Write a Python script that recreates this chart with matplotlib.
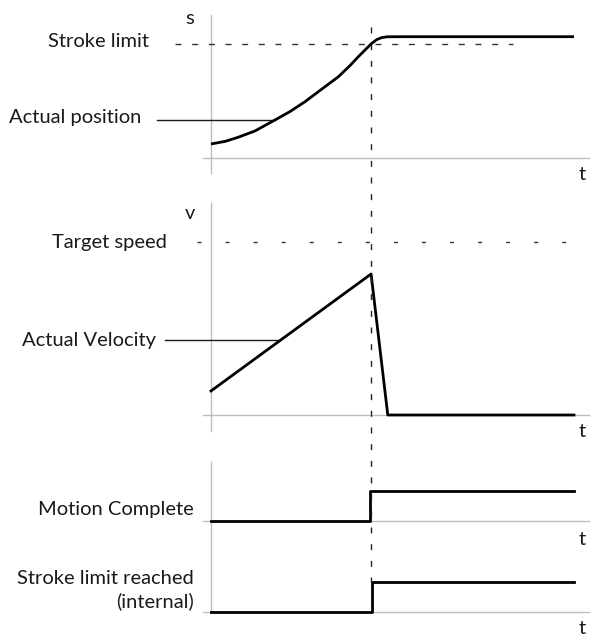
import matplotlib
matplotlib.use("Agg")
import matplotlib.pyplot as plt
from matplotlib.lines import Line2D
from matplotlib.transforms import blended_transform_factory

# --- data ---
t_pos = [0.0, 0.39, 0.75, 1.21, 1.76, 2.18, 2.59, 3.0, 3.51, 3.83, 4.06, 4.27,
         4.43, 4.57, 4.70, 4.85, 5.07, 10.0]
s_pos = [12.3, 14.6, 18.2, 23.7, 33.3, 40.8, 49.4, 59.2, 71.3, 81.1, 88.9, 95.6,
         100.6, 103.9, 105.6, 106.3, 106.4, 106.4]
stroke_limit = 100.0

t_vel = [0.0, 4.41, 4.87, 10.0]
v_vel = [13.9, 81.5, 0.0, 0.0]
target_speed = 100.0

t_mc = [0.0, 4.38, 10.0]
mc_level = [0, 1, 1]

t_slr = [0.0, 4.43, 10.0]
slr_level = [0, 1, 1]

t_event = 4.4

W, H = 592, 638
PX_PER_T = 36.3
GRAY = "#bdbdbd"
INK = "#1a1a1a"

plt.rcParams['font.family'] = ['Lato', 'DejaVu Sans']
plt.rcParams['font.size'] = 14.5

fig = plt.figure(figsize=(W / 100, H / 100), dpi=100)
xlim = (-211 / PX_PER_T, (W - 211) / PX_PER_T)


def panel(top, bottom, zero_px, px_per_unit):
    ax = fig.add_axes([0, 1 - bottom / H, 1, (bottom - top) / H])
    ax.set_xlim(*xlim)
    ax.set_ylim((zero_px - bottom) / px_per_unit, (zero_px - top) / px_per_unit)
    ax.set_axis_off()
    ax.patch.set_alpha(0)
    return ax


def axis_lines(ax, top, bottom, vtop, vbot):
    ax.axhline(0, xmin=203 / W, xmax=589 / W, color=GRAY, lw=1.0, zorder=1)
    h = bottom - top
    ax.axvline(0, ymin=(bottom - vbot) / h, ymax=(bottom - vtop) / h,
               color=GRAY, lw=1.0, zorder=1)


def label(ax, x_px, y, text, **kw):
    tr = blended_transform_factory(fig.transFigure, ax.transData)
    ax.text(x_px / W, y, text, transform=tr, ha='right', va='center',
            color=INK, **kw)


# position
ax1 = panel(0, 195, 158, 1.14)
axis_lines(ax1, 0, 195, 15, 173)
ax1.plot([-0.99, 8.32], [stroke_limit, stroke_limit], color="#333333",
         lw=1.0, dashes=(4.3, 7.7), zorder=2)
ax1.plot(t_pos, s_pos, color='black', lw=2.0, zorder=3,
         solid_capstyle='butt', solid_joinstyle='round')
ax1.plot([-1.49, 1.76], [33.3, 33.3], color=INK, lw=1.0, zorder=2)
label(ax1, 149, stroke_limit + 2.5, "Stroke limit")
label(ax1, 141, 35.5, "Actual position")
ax1.text(-0.58, 122.8, "s", ha='center', va='center', color=INK)
ax1.text(10.22, -14.9, "t", ha='center', va='center', color=INK)

# velocity
ax2 = panel(195, 445, 415, 1.73)
axis_lines(ax2, 195, 445, 203, 431)
ax2.plot([-0.39, 10.0], [target_speed, target_speed], color="#333333",
         lw=1.0, dashes=(2.9, 17.3), zorder=2)
ax2.plot(t_vel, v_vel, color='black', lw=2.0, zorder=3)
ax2.plot([-1.27, 1.87], [43.4, 43.4], color=INK, lw=1.0, zorder=2)
label(ax2, 167, target_speed, "Target speed")
label(ax2, 156, 43.0, "Actual Velocity")
ax2.text(-0.58, 116.2, "v", ha='center', va='center', color=INK)
ax2.text(10.22, -9.8, "t", ha='center', va='center', color=INK)

# motion complete
ax3 = panel(445, 545, 521, 30)
axis_lines(ax3, 445, 545, 462, 545)
ax3.plot(t_mc, mc_level, drawstyle='steps-post', color='black', lw=2.0, zorder=3)
label(ax3, 194, 0.37, "Motion Complete")
ax3.text(10.22, -0.63, "t", ha='center', va='center', color=INK)

# stroke limit reached
ax4 = panel(545, 638, 612, 30.5)
axis_lines(ax4, 545, 638, 545, 612)
ax4.plot(t_slr, slr_level, drawstyle='steps-post', color='black', lw=2.0, zorder=3)
label(ax4, 194, 0.72, "Stroke limit reached\n(internal)", linespacing=1.3,
      multialignment='right')
ax4.text(10.22, -0.53, "t", ha='center', va='center', color=INK)

# event marker through all panels
fig.add_artist(Line2D([t_event, t_event], [1 - 27 / H, 1 - 582 / H],
                      transform=blended_transform_factory(ax1.transData, fig.transFigure),
                      color="#222222", lw=1.0, dashes=(4.3, 7.7)))

fig.savefig("out.png", dpi=100)
